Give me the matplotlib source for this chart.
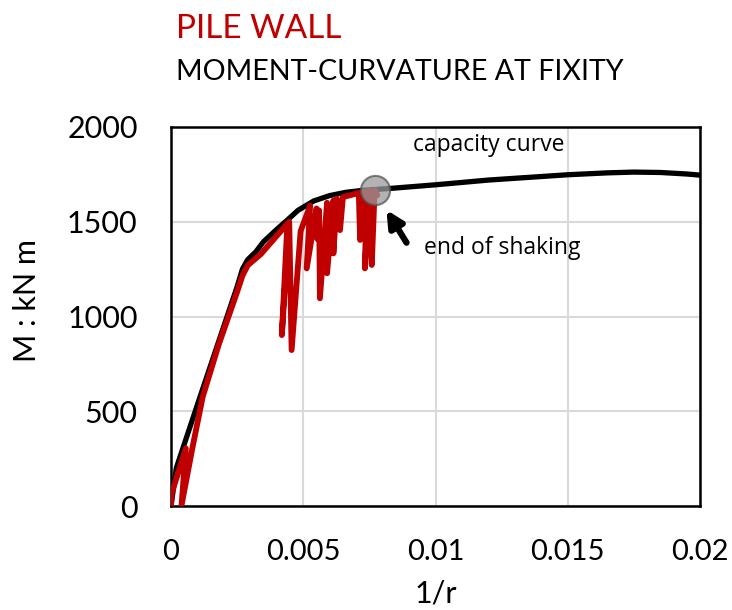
import matplotlib
matplotlib.use('Agg')
from matplotlib import pyplot as plt

# capacity curve (black)
cap_x = [0.0, 0.0002, 0.0011, 0.0025, 0.0027, 0.0029, 0.0032, 0.0035, 0.0040, 0.0044,
         0.0048, 0.0054, 0.0060, 0.0066, 0.0072, 0.0083, 0.010, 0.012, 0.015, 0.0165,
         0.0175, 0.0185, 0.0195, 0.020]
cap_y = [0, 200, 577, 1157, 1250, 1300, 1340, 1395, 1460, 1509,
         1560, 1610, 1638, 1655, 1665, 1676, 1695, 1720, 1748, 1758,
         1762, 1760, 1752, 1746]

# response during shaking (red)
resp_x = [0.0, 0.00003, 0.00056, 0.0004, 0.0008, 0.0012, 0.0018, 0.0025, 0.0027, 0.0029,
          0.0034, 0.0039, 0.0044, 0.00419, 0.00447, 0.00456, 0.0049, 0.00526, 0.00513,
          0.0055, 0.00553, 0.0056, 0.00563, 0.0059, 0.0059, 0.00614, 0.00614, 0.00627,
          0.00639, 0.0065, 0.0071, 0.00715, 0.0072, 0.0074, 0.00733, 0.0075, 0.00759,
          0.0077, 0.0078]
resp_y = [0, 69, 304, 5, 300, 577, 850, 1130, 1215, 1270,
          1330, 1410, 1490, 902, 1500, 823, 1450, 1585, 1254,
          1570, 1410, 1560, 1096, 1600, 1228, 1612, 1333, 1622,
          1456, 1630, 1652, 1404, 1655, 1660, 1254, 1665, 1272,
          1668, 1640]

end_x = 0.00771
end_y = 1667

xticks = [0, 0.005, 0.01, 0.015, 0.02]
xlabels = ['0', '0.005', '0.01', '0.015', '0.02']
yticks = [0, 500, 1000, 1500, 2000]

plt.rcParams['font.family'] = ['Lato', 'DejaVu Sans']

fig = plt.figure(figsize=(7.32, 6.10), dpi=100)
ax = fig.add_axes([171/732, 1-506/610, 529/732, 379/610])

ax.plot(cap_x, cap_y, color='black', linewidth=3.8, solid_capstyle='butt',
        solid_joinstyle='round', zorder=3)
ax.plot(resp_x, resp_y, color='#C00000', linewidth=4.2, solid_joinstyle='round',
        solid_capstyle='round', zorder=4)
ax.plot([end_x], [end_y], 'o', markersize=21, markerfacecolor='#9a9a9a', alpha=0.75,
        markeredgecolor='#555555', markeredgewidth=1.5, zorder=5)

ax.annotate('', xy=(0.00809, 1575), xytext=(0.00896, 1377),
            arrowprops=dict(arrowstyle='-|>', color='black', lw=4.5, mutation_scale=24))
ax.text(0.00955, 1361, 'end of shaking', fontsize=16.5, family='Open Sans', va='center')
ax.text(0.0120, 1905, 'capacity curve', fontsize=16.5, family='Open Sans', va='center', ha='center')

ax.set_xlim(0, 0.02)
ax.set_ylim(0, 2000)
ax.set_xticks(xticks)
ax.set_xticklabels(xlabels)
ax.set_yticks(yticks)
ax.tick_params(length=0, labelsize=21)
ax.tick_params(axis='x', pad=24)
ax.tick_params(axis='y', pad=24, labelsize=22)
ax.grid(color='#d9d9d9', linewidth=1.5)
ax.set_axisbelow(True)
for s in ax.spines.values():
    s.set_linewidth(1.8)
    s.set_color('black')

ax.set_xlabel('1/r', fontsize=22)
ax.xaxis.set_label_coords(0.5, (506-580)/379)
ax.set_ylabel('M : kN m', fontsize=22, va='center')
ax.yaxis.set_label_coords((27-171)/529, (506-301)/379)

fig.text(176/732, 1-38/610, 'PILE WALL', color='#C00000', fontsize=24)
fig.text(176/732, 1-80/610, 'MOMENT-CURVATURE AT FIXITY', color='black', fontsize=20.6)

fig.savefig('out.png', dpi=100)
